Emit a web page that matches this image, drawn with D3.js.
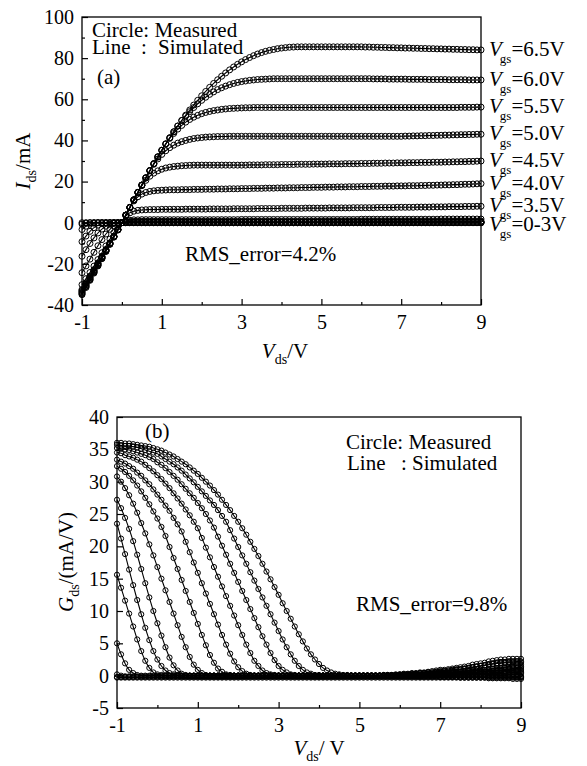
<!DOCTYPE html>
<html>
<head>
<meta charset="utf-8">
<script src="https://cdn.jsdelivr.net/npm/d3@7"></script>
<style>
  body { margin: 0; background: #fff; }
  svg text { font-family: "Liberation Serif", "Times New Roman", "DejaVu Serif", serif; fill: #000; }
</style>
</head>
<body>
<div id="chart-area"></div>
<script>
// measurement grid, Vds in volts
var vds = [-1,-0.9,-0.8,-0.7,-0.6,-0.5,-0.4,-0.3,-0.2,-0.1,
  0,0.1,0.2,0.3,0.4,0.5,0.6,0.7,0.8,0.9,
  1,1.1,1.2,1.3,1.4,1.5,1.6,1.7,1.8,1.9,
  2,2.1,2.2,2.3,2.4,2.5,2.6,2.7,2.8,2.9,
  3,3.1,3.2,3.3,3.4,3.5,3.6,3.7,3.8,3.9,
  4,4.1,4.2,4.3,4.4,4.5,4.6,4.7,4.8,4.9,
  5,5.1,5.2,5.3,5.4,5.5,5.6,5.7,5.8,5.9,
  6,6.1,6.2,6.3,6.4,6.5,6.6,6.7,6.8,6.9,
  7,7.1,7.2,7.3,7.4,7.5,7.6,7.7,7.8,7.9,
  8,8.1,8.2,8.3,8.4,8.5,8.6,8.7,8.8,8.9,
  9];

// (a) Ids in mA, one array per Vgs
var ids65 = [-35,-31.5,-28,-24.5,-21,-17.5,-14,-10.5,-7,-3.5,
  0,3.7,7.4,11.1,14.7,18.3,21.8,25.3,28.7,32,
  35.2,38.3,41.3,44.2,47,49.7,52.3,54.8,57.2,59.5,
  61.7,63.8,65.8,67.7,69.5,71.2,72.8,74.3,75.7,77,
  78.2,79.3,80.3,81.2,82,82.7,83.3,83.8,84.2,84.6,
  84.9,85.1,85.3,85.4,85.5,85.5,85.5,85.5,85.5,85.5,
  85.5,85.5,85.5,85.5,85.5,85.5,85.5,85.5,85.5,85.5,
  85.5,85.4,85.4,85.3,85.3,85.2,85.2,85.1,85.1,85,
  85,84.9,84.9,84.8,84.8,84.7,84.7,84.6,84.6,84.5,
  84.5,84.4,84.4,84.3,84.3,84.2,84.2,84.1,84.1,84,
  84];
var ids60 = [-34.6,-31.1,-27.7,-24.2,-20.8,-17.3,-13.8,-10.4,-6.9,-3.5,
  0,3.7,7.4,11.1,14.7,18.3,21.8,25.3,28.7,32,
  35.2,38.3,41.3,44.2,47,49.7,51.9,54,56,57.8,
  59.5,61,62.4,63.6,64.7,65.6,66.4,67.1,67.7,68.2,
  68.6,68.9,69.2,69.4,69.6,69.7,69.8,69.9,70,70,
  70,70,70,70,70,70,70,70,70,70,
  70,70,70,70,70,70,70,70,70,70,
  70,70,70,69.9,69.9,69.9,69.9,69.8,69.8,69.8,
  69.8,69.8,69.7,69.7,69.7,69.7,69.7,69.6,69.6,69.6,
  69.6,69.6,69.5,69.5,69.5,69.5,69.5,69.4,69.4,69.4,
  69.4];
var ids55 = [-34.2,-30.8,-27.4,-23.9,-20.5,-17.1,-13.7,-10.3,-6.8,-3.4,
  0,3.7,7.4,11.1,14.7,18.3,21.8,25.3,28.7,32,
  35.2,38.3,41,43.4,45.5,47.3,48.9,50.2,51.3,52.2,
  53,53.6,54.1,54.5,54.8,55.1,55.3,55.5,55.6,55.7,
  55.8,55.9,55.9,56,56,56,56,56,56,56,
  56,56,56,56,56,56,56,56,56,56,
  56,56,56,56,56,56,56,56,56,56,
  56,56,56,56,56,56,56,56,56,56,
  56,56,56,56,56,56,56,56,56,56,
  56,56,56,56,56,56.1,56.1,56.1,56.1,56.2,
  56.2];
var ids50 = [-33.8,-30.4,-27,-23.7,-20.3,-16.9,-13.5,-10.1,-6.8,-3.4,
  0,3.7,7.4,11.1,14.7,18.3,21.8,25.3,28.4,31,
  33.2,35,36.5,37.7,38.7,39.4,40,40.5,40.9,41.2,
  41.4,41.6,41.7,41.8,41.9,41.9,41.9,42,42,42,
  42,42,42,42,42,42,42,42,42,42,
  42,42,42,42,42,42,42,42,42,42,
  42,42,42,42,42,42,42,42,42,42,
  42,42,42,42,42,42,42,42,42,42,
  42,42.1,42.1,42.2,42.2,42.3,42.3,42.4,42.4,42.5,
  42.5,42.6,42.6,42.7,42.7,42.8,42.8,42.9,42.9,43,
  43];
var ids45 = [-33.4,-30.1,-26.7,-23.4,-20,-16.7,-13.4,-10,-6.7,-3.3,
  0,3.7,7.4,11.1,14.7,18,20.6,22.6,24.1,25.2,
  26,26.6,27,27.3,27.5,27.7,27.8,27.9,28,28,
  28,28,28,28,28,28,28,28,28,28,
  28,28,28.1,28.1,28.1,28.1,28.2,28.2,28.2,28.2,
  28.3,28.3,28.3,28.3,28.4,28.4,28.4,28.4,28.5,28.5,
  28.5,28.5,28.6,28.6,28.6,28.6,28.7,28.7,28.7,28.7,
  28.8,28.8,28.8,28.9,28.9,28.9,29,29,29,29.1,
  29.1,29.1,29.2,29.2,29.2,29.3,29.3,29.3,29.4,29.4,
  29.4,29.5,29.5,29.6,29.6,29.7,29.7,29.8,29.8,29.9,
  30];
var ids40 = [-33,-29.7,-26.4,-23.1,-19.8,-16.5,-13.2,-9.9,-6.6,-3.3,
  0,3.7,7.4,10.6,12.6,13.9,14.7,15.2,15.5,15.7,
  15.8,15.9,16,16,16,16.1,16.1,16.1,16.2,16.2,
  16.2,16.3,16.3,16.3,16.4,16.4,16.4,16.5,16.5,16.5,
  16.6,16.6,16.6,16.7,16.7,16.7,16.8,16.8,16.8,16.9,
  16.9,16.9,17,17,17,17.1,17.1,17.1,17.2,17.2,
  17.2,17.3,17.3,17.3,17.4,17.4,17.4,17.5,17.5,17.5,
  17.6,17.6,17.6,17.7,17.7,17.7,17.8,17.8,17.8,17.9,
  17.9,17.9,18,18,18,18.1,18.1,18.2,18.2,18.3,
  18.3,18.4,18.4,18.5,18.5,18.6,18.7,18.7,18.8,18.9,
  19];
var ids35 = [-32.5,-29.3,-26,-22.8,-19.5,-16.3,-13,-9.8,-6.5,-3.3,
  0,3.3,4.8,5.6,6,6.2,6.3,6.4,6.4,6.4,
  6.5,6.5,6.5,6.5,6.5,6.5,6.6,6.6,6.6,6.6,
  6.6,6.6,6.7,6.7,6.7,6.7,6.7,6.7,6.8,6.8,
  6.8,6.8,6.8,6.8,6.9,6.9,6.9,6.9,6.9,6.9,
  7,7,7,7,7,7,7.1,7.1,7.1,7.1,
  7.1,7.1,7.2,7.2,7.2,7.2,7.2,7.2,7.3,7.3,
  7.3,7.3,7.3,7.3,7.4,7.4,7.4,7.4,7.4,7.5,
  7.5,7.5,7.5,7.5,7.6,7.6,7.6,7.6,7.7,7.7,
  7.7,7.7,7.8,7.8,7.8,7.8,7.9,7.9,7.9,8,
  8];
var ids30 = [-30.1,-27.2,-24.2,-21.1,-17.9,-14.6,-11.3,-8,-4.8,-2,
  0,0.8,1.2,1.4,1.4,1.5,1.5,1.5,1.5,1.5,
  1.5,1.5,1.5,1.5,1.5,1.5,1.5,1.5,1.5,1.5,
  1.5,1.5,1.5,1.5,1.5,1.5,1.5,1.5,1.5,1.5,
  1.6,1.6,1.6,1.6,1.6,1.6,1.6,1.6,1.6,1.6,
  1.6,1.6,1.6,1.6,1.6,1.6,1.6,1.6,1.6,1.6,
  1.6,1.6,1.6,1.6,1.6,1.6,1.6,1.6,1.6,1.6,
  1.7,1.7,1.7,1.7,1.7,1.7,1.7,1.7,1.7,1.7,
  1.7,1.7,1.7,1.7,1.7,1.7,1.7,1.7,1.7,1.7,
  1.8,1.8,1.8,1.8,1.8,1.8,1.8,1.8,1.8,1.8,
  1.8];
var ids25 = [-24.3,-21,-17.7,-14.4,-11.2,-8.2,-5.5,-3.2,-1.5,-0.5,
  0,0.4,0.6,0.7,0.7,0.7,0.7,0.7,0.7,0.7,
  0.7,0.7,0.7,0.7,0.7,0.7,0.7,0.7,0.7,0.7,
  0.7,0.7,0.7,0.7,0.7,0.7,0.7,0.7,0.7,0.7,
  0.7,0.7,0.7,0.7,0.7,0.7,0.7,0.7,0.7,0.7,
  0.7,0.7,0.7,0.7,0.7,0.7,0.7,0.7,0.7,0.7,
  0.8,0.8,0.8,0.8,0.8,0.8,0.8,0.8,0.8,0.8,
  0.8,0.8,0.8,0.8,0.8,0.8,0.8,0.8,0.8,0.8,
  0.8,0.8,0.8,0.8,0.8,0.8,0.8,0.8,0.8,0.8,
  0.8,0.8,0.8,0.8,0.8,0.8,0.8,0.8,0.8,0.8,
  0.8];
var ids20 = [-16.3,-13.1,-10.1,-7.4,-5,-3.1,-1.7,-0.8,-0.3,-0.1,
  0,0.2,0.3,0.3,0.3,0.3,0.3,0.3,0.3,0.3,
  0.3,0.3,0.3,0.3,0.3,0.3,0.3,0.3,0.3,0.3,
  0.3,0.3,0.3,0.3,0.3,0.3,0.3,0.3,0.3,0.3,
  0.3,0.3,0.3,0.3,0.3,0.3,0.3,0.3,0.3,0.3,
  0.3,0.3,0.3,0.3,0.3,0.3,0.3,0.3,0.3,0.3,
  0.4,0.4,0.4,0.4,0.4,0.4,0.4,0.4,0.4,0.4,
  0.4,0.4,0.4,0.4,0.4,0.4,0.4,0.4,0.4,0.4,
  0.4,0.4,0.4,0.4,0.4,0.4,0.4,0.4,0.4,0.4,
  0.4,0.4,0.4,0.4,0.4,0.4,0.4,0.4,0.4,0.4,
  0.4];
var ids15 = [-9.2,-6.5,-4.2,-2.4,-1.2,-0.5,-0.2,-0.1,0,0,
  0,0.1,0.2,0.2,0.2,0.2,0.2,0.2,0.2,0.2,
  0.2,0.2,0.2,0.2,0.2,0.2,0.2,0.2,0.2,0.2,
  0.2,0.2,0.2,0.2,0.2,0.2,0.2,0.2,0.2,0.2,
  0.2,0.2,0.2,0.2,0.2,0.2,0.2,0.2,0.2,0.2,
  0.2,0.2,0.2,0.2,0.2,0.2,0.2,0.2,0.2,0.2,
  0.2,0.2,0.2,0.2,0.2,0.2,0.2,0.2,0.2,0.2,
  0.2,0.2,0.2,0.2,0.2,0.2,0.2,0.2,0.2,0.2,
  0.2,0.2,0.2,0.2,0.2,0.2,0.2,0.2,0.2,0.2,
  0.2,0.2,0.2,0.2,0.2,0.2,0.2,0.2,0.2,0.2,
  0.2];
var ids10 = [-3.3,-1.7,-0.7,-0.2,0,0,0,0,0,0,
  0,0.1,0.1,0.1,0.1,0.1,0.1,0.1,0.1,0.1,
  0.1,0.1,0.1,0.1,0.1,0.1,0.1,0.1,0.1,0.1,
  0.1,0.1,0.1,0.1,0.1,0.1,0.1,0.1,0.1,0.1,
  0.1,0.1,0.1,0.1,0.1,0.1,0.1,0.1,0.1,0.1,
  0.1,0.1,0.1,0.1,0.1,0.1,0.1,0.1,0.1,0.1,
  0.1,0.1,0.1,0.1,0.1,0.1,0.1,0.1,0.1,0.1,
  0.1,0.1,0.1,0.1,0.1,0.1,0.1,0.1,0.1,0.1,
  0.1,0.1,0.1,0.1,0.1,0.1,0.1,0.1,0.1,0.1,
  0.1,0.1,0.1,0.1,0.1,0.1,0.1,0.1,0.1,0.1,
  0.1];
var ids05 = [-0.7,-0.2,0,0,0,0,0,0,0,0,
  0,0,0,0,0,0,0,0,0,0,
  0,0,0,0,0,0,0,0,0,0,
  0,0,0,0,0,0,0,0,0,0,
  0,0,0,0,0,0,0,0,0,0,
  0,0,0,0,0,0,0,0,0,0,
  0,0,0,0,0,0,0,0,0,0,
  0,0,0,0,0,0,0,0,0,0,
  0,0,0,0,0,0,0,0,0,0,
  0,0,0,0,0,0,0,0,0,0,
  0];
var ids00 = [0,0,0,0,0,0,0,0,0,0,
  0,0,0,0,0,0,0,0,0,0,
  0,0,0,0,0,0,0,0,0,0,
  0,0,0,0,0,0,0,0,0,0,
  0,0,0,0,0,0,0,0,0,0,
  0,0,0,0,0,0,0,0,0,0,
  0,0,0,0,0,0,0,0,0,0,
  0,0,0,0,0,0,0,0,0,0,
  0,0,0,0,0,0,0,0,0,0,
  0,0,0,0,0,0,0,0,0,0,
  0];

// (b) Gds in mA/V, one array per Vgs
var gds65 = [36,36,35.9,35.9,35.8,35.7,35.6,35.5,35.4,35.2,
  35,34.8,34.5,34.2,33.9,33.5,33.1,32.7,32.2,31.7,
  31.2,30.6,30,29.4,28.7,28,27.2,26.4,25.6,24.7,
  23.8,22.8,21.8,20.7,19.6,18.5,17.3,16.1,14.9,13.7,
  12.5,11.2,10,8.8,7.6,6.4,5.3,4.2,3.3,2.5,
  1.8,1.2,0.8,0.5,0.3,0.2,0.1,0.1,0,0,
  0,0,0,0,0,0,0,0,0,0,
  0,0,0,0,0,-0.1,-0.1,-0.1,-0.1,-0.1,
  -0.2,-0.2,-0.2,-0.2,-0.2,-0.3,-0.3,-0.3,-0.3,-0.3,
  -0.3,-0.3,-0.4,-0.4,-0.4,-0.4,-0.4,-0.4,-0.5,-0.5,
  -0.5];
var gds60 = [35.7,35.6,35.5,35.5,35.4,35.3,35.1,34.9,34.7,34.5,
  34.3,33.9,33.5,33.1,32.7,32.2,31.7,31.1,30.5,29.9,
  29.2,28.5,27.8,27.1,26.4,25.6,24.7,23.8,22.5,21.2,
  19.9,18.6,17.3,16,14.7,13.4,12.1,10.8,9.5,8.2,
  6.9,5.6,4.4,3.3,2.3,1.5,0.9,0.5,0.3,0.1,
  0.1,0,0,0,0,0,0,0,0,0,
  0,0,0,0,0,0,0,0,0,0,
  0,0,0,0,0,0,0,0,0,0,
  0,0,0,0,0.1,0.1,0.1,0.1,0.1,0.1,
  0.2,0.2,0.2,0.2,0.2,0.3,0.3,0.3,0.3,0.3,
  0.3];
var gds55 = [35.2,35.1,35,34.9,34.7,34.5,34.3,34.1,33.8,33.5,
  33,32.6,32.1,31.5,30.9,30.3,29.6,28.9,28.2,27.5,
  26.7,25.9,25,24,22.9,21.5,20.1,18.7,17.3,15.9,
  14.5,13.1,11.7,10.3,8.9,7.5,6.1,4.8,3.5,2.4,
  1.5,0.9,0.5,0.2,0.1,0,0,0,0,0,
  0,0,0,0,0,0,0,0,0,0,
  0,0,0,0,0,0,0,0,0,0,
  0,0,0,0,0,0.1,0.1,0.1,0.1,0.1,
  0.1,0.2,0.2,0.2,0.2,0.2,0.3,0.3,0.3,0.3,
  0.4,0.4,0.4,0.5,0.5,0.5,0.6,0.6,0.6,0.7,
  0.7];
var gds50 = [34.5,34.4,34.1,33.9,33.7,33.4,33.1,32.6,32.1,31.6,
  31,30.4,29.7,29,28.2,27.4,26.6,25.7,24.8,23.8,
  22.8,21.3,19.8,18.3,16.8,15.3,13.8,12.3,10.8,9.3,
  7.8,6.3,4.8,3.5,2.3,1.5,0.8,0.4,0.2,0.1,
  0,0,0,0,0,0,0,0,0,0,
  0,0,0,0,0,0,0,0,0,0,
  0,0,0,0,0,0,0,0,0,0,
  0,0.1,0.1,0.1,0.1,0.1,0.2,0.2,0.2,0.2,
  0.3,0.3,0.3,0.4,0.4,0.4,0.5,0.5,0.6,0.6,
  0.7,0.7,0.8,0.8,0.9,0.9,1,1,1.1,1.1,
  1.2];
var gds45 = [33.4,33.1,32.8,32.4,32,31.4,30.9,30.2,29.6,28.8,
  28,27.2,26.3,25.5,24.4,23.4,22.3,20.7,19.1,17.5,
  15.9,14.3,12.7,11.1,9.5,7.9,6.3,4.8,3.4,2.2,
  1.3,0.7,0.3,0.1,0,0,0,0,0,0,
  0,0,0,0,0,0,0,0,0,0,
  0,0,0,0,0,0,0,0,0,0,
  0,0,0,0,0,0,0,0,0,0,
  0.1,0.1,0.1,0.1,0.2,0.2,0.2,0.3,0.3,0.3,
  0.4,0.4,0.4,0.5,0.5,0.6,0.6,0.7,0.7,0.8,
  0.9,0.9,1,1.1,1.2,1.2,1.3,1.4,1.5,1.6,
  1.7];
var gds40 = [32.4,32,31.5,30.9,30.2,29.4,28.5,27.5,26.5,25.4,
  24.3,23,21.6,19.9,18.2,16.5,14.8,13.1,11.4,9.7,
  8,6.3,4.7,3.2,2,1.1,0.6,0.2,0.1,0,
  0,0,0,0,0,0,0,0,0,0,
  0,0,0,0,0,0,0,0,0,0,
  0,0,0,0,0,0,0,0,0,0,
  0,0,0,0,0,0,0,0.1,0.1,0.1,
  0.1,0.2,0.2,0.3,0.3,0.4,0.4,0.5,0.5,0.6,
  0.6,0.7,0.8,0.9,1,1,1.1,1.2,1.3,1.4,
  1.5,1.6,1.7,1.8,1.9,2,2,2.1,2.1,2.2,
  2.2];
var gds35 = [30.8,30,29,27.9,26.6,25.2,23.6,22,20.3,18.6,
  16.8,15,13.2,11.4,9.6,7.8,6,4.4,2.9,1.7,
  0.9,0.4,0.1,0,0,0,0,0,0,0,
  0,0,0,0,0,0,0,0,0,0,
  0,0,0,0,0,0,0,0,0,0,
  0,0,0,0,0,0,0,0,0,0,
  0,0,0,0,0,0,0.1,0.1,0.1,0.2,
  0.2,0.3,0.3,0.4,0.4,0.5,0.5,0.6,0.7,0.8,
  0.9,0.9,1,1.1,1.2,1.3,1.4,1.5,1.7,1.8,
  1.9,2,2.2,2.3,2.4,2.5,2.5,2.6,2.6,2.6,
  2.6];
var gds30 = [27.2,25.9,24.4,22.7,20.8,18.7,16.5,14.3,12.1,10,
  8.1,6.2,4.4,2.8,1.6,0.8,0.3,0.1,0,0,
  0,0,0,0,0,0,0,0,0,0,
  0,0,0,0,0,0,0,0,0,0,
  0,0,0,0,0,0,0,0,0,0,
  0,0,0,0,0,0,0,0,0,0,
  0,0,0,0,0,0,0.1,0.1,0.1,0.1,
  0.2,0.2,0.2,0.3,0.3,0.4,0.4,0.5,0.5,0.6,
  0.7,0.7,0.8,0.9,0.9,1,1.1,1.2,1.3,1.4,
  1.5,1.6,1.7,1.8,1.9,1.9,2,2,2,2,
  2];
var gds25 = [23.5,21.2,18.8,16.4,14,11.7,9.5,7.4,5.5,3.8,
  2.5,1.5,0.8,0.4,0.2,0.1,0,0,0,0,
  0,0,0,0,0,0,0,0,0,0,
  0,0,0,0,0,0,0,0,0,0,
  0,0,0,0,0,0,0,0,0,0,
  0,0,0,0,0,0,0,0,0,0,
  0,0,0,0,0,0,0,0,0,0,
  0.1,0.1,0.1,0.1,0.2,0.2,0.2,0.3,0.3,0.3,
  0.4,0.4,0.5,0.5,0.6,0.6,0.7,0.7,0.8,0.8,
  0.9,0.9,1,1,1.1,1.1,1.2,1.2,1.3,1.3,
  1.4];
var gds20 = [15.6,13.6,11.6,9.6,7.6,5.6,3.8,2.3,1.2,0.5,
  0.2,0.1,0,0,0,0,0,0,0,0,
  0,0,0,0,0,0,0,0,0,0,
  0,0,0,0,0,0,0,0,0,0,
  0,0,0,0,0,0,0,0,0,0,
  0,0,0,0,0,0,0,0,0,0,
  0,0,0,0,0,0,0,0,0,0,
  0,0,0.1,0.1,0.1,0.1,0.1,0.2,0.2,0.2,
  0.2,0.3,0.3,0.3,0.4,0.4,0.4,0.5,0.5,0.5,
  0.6,0.6,0.6,0.7,0.7,0.7,0.8,0.8,0.8,0.9,
  0.9];
var gds15 = [5,3.3,1.9,0.9,0.4,0.1,0,0,0,0,
  0,0,0,0,0,0,0,0,0,0,
  0,0,0,0,0,0,0,0,0,0,
  0,0,0,0,0,0,0,0,0,0,
  0,0,0,0,0,0,0,0,0,0,
  0,0,0,0,0,0,0,0,0,0,
  0,0,0,0,0,0,0,0,0,0,
  0,0,0,0,0,0,0.1,0.1,0.1,0.1,
  0.1,0.1,0.2,0.2,0.2,0.2,0.2,0.3,0.3,0.3,
  0.3,0.3,0.4,0.4,0.4,0.4,0.4,0.5,0.5,0.5,
  0.5];
var gds10 = [0.2,0,-0.1,-0.1,-0.1,-0.1,-0.1,-0.1,-0.1,-0.1,
  -0.1,-0.1,-0.1,-0.1,-0.1,-0.1,-0.1,-0.1,-0.1,-0.1,
  -0.1,-0.1,-0.1,-0.1,-0.1,-0.1,-0.1,-0.1,-0.1,-0.1,
  -0.1,-0.1,-0.1,-0.1,-0.1,-0.1,-0.1,-0.1,-0.1,-0.1,
  -0.1,-0.1,-0.1,-0.1,-0.1,-0.1,-0.1,-0.1,-0.1,-0.1,
  -0.1,-0.1,-0.1,-0.1,-0.1,-0.1,-0.1,-0.1,-0.1,-0.1,
  -0.1,-0.1,-0.1,-0.1,-0.1,-0.1,-0.1,-0.1,-0.1,-0.1,
  -0.1,-0.1,-0.1,-0.1,-0.1,-0.1,-0.1,-0.1,-0.1,-0.1,
  -0.1,-0.1,-0.1,-0.1,-0.1,-0.1,-0.1,-0.1,-0.1,-0.1,
  -0.1,-0.1,-0.1,-0.1,-0.1,-0.1,-0.1,-0.1,-0.1,-0.1,
  -0.1];
var gds05 = [-0.2,-0.2,-0.2,-0.2,-0.2,-0.2,-0.2,-0.2,-0.2,-0.2,
  -0.2,-0.2,-0.2,-0.2,-0.2,-0.2,-0.2,-0.2,-0.2,-0.2,
  -0.2,-0.2,-0.2,-0.2,-0.2,-0.2,-0.2,-0.2,-0.2,-0.2,
  -0.2,-0.2,-0.2,-0.2,-0.2,-0.2,-0.2,-0.2,-0.2,-0.2,
  -0.2,-0.2,-0.2,-0.2,-0.2,-0.2,-0.2,-0.2,-0.2,-0.2,
  -0.2,-0.2,-0.2,-0.2,-0.2,-0.2,-0.2,-0.2,-0.2,-0.2,
  -0.2,-0.2,-0.2,-0.2,-0.2,-0.2,-0.2,-0.2,-0.2,-0.2,
  -0.2,-0.2,-0.2,-0.2,-0.2,-0.2,-0.2,-0.2,-0.2,-0.2,
  -0.2,-0.2,-0.2,-0.2,-0.2,-0.2,-0.2,-0.2,-0.2,-0.2,
  -0.2,-0.2,-0.2,-0.2,-0.2,-0.2,-0.2,-0.2,-0.2,-0.2,
  -0.2];
var gds00 = [-0.3,-0.3,-0.3,-0.3,-0.3,-0.3,-0.3,-0.3,-0.3,-0.3,
  -0.3,-0.3,-0.3,-0.3,-0.3,-0.3,-0.3,-0.3,-0.3,-0.3,
  -0.3,-0.3,-0.3,-0.3,-0.3,-0.3,-0.3,-0.3,-0.3,-0.3,
  -0.3,-0.3,-0.3,-0.3,-0.3,-0.3,-0.3,-0.3,-0.3,-0.3,
  -0.3,-0.3,-0.3,-0.3,-0.3,-0.3,-0.3,-0.3,-0.3,-0.3,
  -0.3,-0.3,-0.3,-0.3,-0.3,-0.3,-0.3,-0.3,-0.3,-0.3,
  -0.3,-0.3,-0.3,-0.3,-0.3,-0.3,-0.3,-0.3,-0.3,-0.3,
  -0.3,-0.3,-0.3,-0.3,-0.3,-0.3,-0.3,-0.3,-0.3,-0.3,
  -0.3,-0.3,-0.3,-0.3,-0.3,-0.3,-0.3,-0.3,-0.3,-0.3,
  -0.3,-0.3,-0.3,-0.3,-0.3,-0.3,-0.3,-0.3,-0.3,-0.3,
  -0.3];

var idsSeries = [ids65, ids60, ids55, ids50, ids45, ids40, ids35, ids30, ids25, ids20, ids15, ids10, ids05, ids00];
var gdsSeries = [gds65, gds60, gds55, gds50, gds45, gds40, gds35, gds30, gds25, gds20, gds15, gds10, gds05, gds00];

// tick values
var xMajor = [-1, 1, 3, 5, 7, 9];
var xMinor = [0, 2, 4, 6, 8];
var idsMajor = [-40, -20, 0, 20, 40, 60, 80, 100];
var idsMinor = [-30, -10, 10, 30, 50, 70, 90];
var gdsMajor = [-5, 0, 5, 10, 15, 20, 25, 30, 35, 40];

// right hand labels of (a): text and which curve they sit next to
var vgsLabels = ["=6.5V", "=6.0V", "=5.5V", "=5.0V", "=4.5V", "=4.0V", "=3.5V", "=0-3V"];
var vgsLabelCurve = [0, 1, 2, 3, 4, 5, 6, 7];

var width = 587, height = 766;
var serif = '"Liberation Serif", "Times New Roman", "DejaVu Serif", serif';

var svg = d3.select("#chart-area")
  .append("svg")
  .attr("width", width)
  .attr("height", height)
  .style("background", "#fff");

function drawPanel(box, yDomain, yMajor, yMinor, series, r) {
  var x = d3.scaleLinear().domain([-1, 9]).range([box.left, box.right]);
  var y = d3.scaleLinear().domain(yDomain).range([box.bottom, box.top]);
  var g = svg.append("g");

  g.append("g")
    .attr("transform", "translate(0," + box.bottom + ")")
    .call(d3.axisBottom(x).tickValues(xMajor).tickSizeInner(-6).tickSizeOuter(0)
      .tickPadding(10).tickFormat(d => String(d)));
  g.append("g")
    .attr("transform", "translate(0," + box.bottom + ")")
    .call(d3.axisBottom(x).tickValues(xMinor).tickSizeInner(-3).tickSizeOuter(0).tickFormat(""));

  g.append("g")
    .attr("transform", "translate(" + box.left + ",0)")
    .call(d3.axisLeft(y).tickValues(yMajor).tickSizeInner(-6).tickSizeOuter(0)
      .tickPadding(8).tickFormat(d => String(d)));
  if (yMinor.length) {
    g.append("g")
      .attr("transform", "translate(" + box.left + ",0)")
      .call(d3.axisLeft(y).tickValues(yMinor).tickSizeInner(-3).tickSizeOuter(0).tickFormat(""));
  }

  g.selectAll(".domain").remove();
  g.selectAll(".tick line").attr("stroke", "#000").attr("stroke-width", 1.2);
  g.selectAll(".tick text")
    .style("font-family", serif)
    .style("font-size", "20px")
    .style("fill", "#000");

  g.append("rect")
    .attr("x", box.left).attr("y", box.top)
    .attr("width", box.right - box.left).attr("height", box.bottom - box.top)
    .attr("fill", "none").attr("stroke", "#000").attr("stroke-width", 1.3);

  var line = d3.line()
    .x((d, i) => x(vds[i]))
    .y(d => y(d))
    .curve(d3.curveMonotoneX);

  g.selectAll(".sim").data(series).enter().append("path")
    .attr("class", "sim")
    .attr("d", line)
    .attr("fill", "none")
    .attr("stroke", "#000")
    .attr("stroke-width", 1.1);

  series.forEach(s => {
    g.append("g").selectAll("circle").data(s).enter().append("circle")
      .attr("cx", (d, i) => x(vds[i]))
      .attr("cy", d => y(d))
      .attr("r", r)
      .attr("fill", "none")
      .attr("stroke", "#000")
      .attr("stroke-width", 1);
  });

  return { x: x, y: y, g: g };
}

function addText(x, y, str, size) {
  return svg.append("text")
    .attr("x", x).attr("y", y)
    .style("font-family", serif)
    .style("font-size", size + "px")
    .style("white-space", "pre")
    .text(str);
}

// two-line legend block: [x, dy, text] pieces
function legend(x, y, pieces) {
  var t = svg.append("text")
    .attr("x", x).attr("y", y)
    .style("font-family", serif)
    .style("font-size", "21px")
    .style("white-space", "pre");
  pieces.forEach(p => {
    t.append("tspan").attr("x", p[0]).attr("dy", p[1]).text(p[2]);
  });
  return t;
}

// text with an italic symbol and a subscript, e.g. V_ds/V
function symText(x, y, sym, sub, rest, rotate) {
  var t = svg.append("text")
    .attr("transform", "translate(" + x + "," + y + ")" + (rotate ? " rotate(-90)" : ""))
    .attr("text-anchor", "middle")
    .style("font-family", serif)
    .style("font-size", "21px");
  t.append("tspan").style("font-style", "italic").text(sym);
  t.append("tspan").attr("dy", 6).style("font-size", "14px").text(sub);
  t.append("tspan").attr("dy", -6).text(rest);
  return t;
}

// ---------- panel (a)
var a = drawPanel({ left: 82, right: 481, top: 17, bottom: 305 },
  [-40, 100], idsMajor, idsMinor, idsSeries, 3);

legend(92, 37, [[92, 0, "Circle: Measured"], [92, 17, "Line"], [141, 0, ":"], [158, 0, "Simulated"]]);
addText(97, 84, "(a)", 21);
addText(185, 261, "RMS_error=4.2%", 21);

vgsLabels.forEach((lab, k) => {
  var s = idsSeries[vgsLabelCurve[k]];
  var yb = a.y(s[s.length - 1]) + (k == 7 ? 12 : 6);
  var t = svg.append("text").attr("x", 489).attr("y", yb)
    .style("font-family", serif).style("font-size", "21px");
  t.append("tspan").style("font-style", "italic").text("V");
  t.append("tspan").attr("dx", -2).attr("dy", 7).style("font-size", "13px").text("gs");
  t.append("tspan").attr("dy", -7).text(lab);
});

symText(30, 161, "I", "ds", "/mA", true);
symText(285, 358, "V", "ds", "/V", false);

// ---------- panel (b)
var b = drawPanel({ left: 117, right: 521, top: 417, bottom: 708 },
  [-5, 40], gdsMajor, [], gdsSeries, 2.6);

legend(346, 449, [[346, 0, "Circle: Measured"], [347, 21, "Line"], [401, 0, ": Simulated"]]);
addText(145, 438, "(b)", 21);
addText(356, 611, "RMS_error=9.8%", 21);

symText(73, 562, "G", "ds", "/(mA/V)", true);
symText(319, 755, "V", "ds", "/ V", false);
</script>
</body>
</html>
